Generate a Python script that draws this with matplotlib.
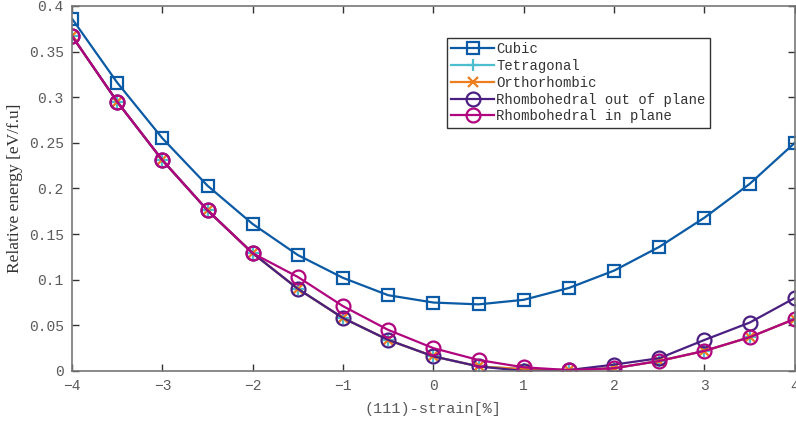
import matplotlib
matplotlib.use("Agg")
import matplotlib.pyplot as plt

strain = [-4, -3.5, -3, -2.5, -2, -1.5, -1, -0.5, 0, 0.5, 1, 1.5, 2, 2.5, 3, 3.5, 4]

cubic = [0.386, 0.316, 0.255, 0.203, 0.161, 0.127, 0.102, 0.083, 0.075, 0.073,
         0.078, 0.091, 0.110, 0.136, 0.168, 0.205, 0.250]
tetragonal = [0.367, 0.295, 0.231, 0.176, 0.129, 0.090, 0.058, 0.034, 0.016, 0.005,
              0.002, 0.001, 0.003, 0.011, 0.022, 0.037, 0.057]
orthorhombic = [0.367, 0.295, 0.231, 0.176, 0.129, 0.090, 0.058, 0.034, 0.016, 0.005,
                0.002, 0.001, 0.003, 0.011, 0.022, 0.037, 0.057]
rhomb_out = [0.367, 0.295, 0.231, 0.176, 0.129, 0.090, 0.058, 0.034, 0.016, 0.005,
             0.000, 0.001, 0.007, 0.014, 0.034, 0.053, 0.080]
rhomb_in = [0.367, 0.295, 0.231, 0.176, 0.129, 0.103, 0.071, 0.045, 0.025, 0.012,
            0.004, 0.001, 0.003, 0.011, 0.022, 0.037, 0.057]

yticks = [0, 0.05, 0.1, 0.15, 0.2, 0.25, 0.3, 0.35, 0.4]
ytick_labels = ["0", "0.05", "0.1", "0.15", "0.2", "0.25", "0.3", "0.35", "0.4"]
xticks = [-4, -3, -2, -1, 0, 1, 2, 3, 4]

mono = "Liberation Mono"
grey = "#5a5a5a"

fig = plt.figure(figsize=(7.96, 4.22), dpi=100)
ax = fig.add_axes([0.0905, 0.1209, 0.908, 0.865])

lw = 1.6
ax.plot(strain, cubic, "-s", color="#0a5aa5", lw=lw, ms=8, mfc="none", mew=1.6,
        label="Cubic")
ax.plot(strain, tetragonal, "-+", color="#4dbecf", lw=lw, ms=8, mew=1.6,
        label="Tetragonal")
ax.plot(strain, orthorhombic, "-x", color="#ee7d1e", lw=lw, ms=7, mew=1.6,
        label="Orthorhombic")
ax.plot(strain, rhomb_out, "-o", color="#4b1f82", lw=lw, ms=10, mfc="none", mew=1.6,
        label="Rhombohedral out of plane")
ax.plot(strain, rhomb_in, "-o", color="#b0057f", lw=lw, ms=10, mfc="none", mew=1.6,
        label="Rhombohedral in plane")

ax.set_xlim(-4, 4)
ax.set_ylim(0, 0.4)
ax.set_xticks(xticks)
ax.set_yticks(yticks, ytick_labels)
for lbl in ax.get_xticklabels() + ax.get_yticklabels():
    lbl.set_fontfamily(mono)
    lbl.set_fontsize(10.5)
    lbl.set_color(grey)
ax.tick_params(direction="in", top=True, right=True, length=5, width=1,
               color="#333333", pad=6)
for sp in ax.spines.values():
    sp.set_color("#777777")
    sp.set_linewidth(1.2)

ax.set_xlabel("(111)-strain[%]", family=mono, fontsize=11, color=grey, labelpad=6)
ax.set_ylabel("Relative energy [eV/f.u]", family="Liberation Serif", fontsize=12.5,
              color="#333333", labelpad=4)

leg = ax.legend(loc="upper left", bbox_to_anchor=(0.519, 0.912),
                prop={"family": mono, "size": 10}, fancybox=False,
                edgecolor="#333333", framealpha=1, handlelength=3.1,
                handletextpad=0.15, borderpad=0.3, labelspacing=0.2,
                borderaxespad=0)
leg.get_frame().set_linewidth(1)
for t in leg.get_texts():
    t.set_color("#333333")

fig.savefig("out.png", dpi=100)
